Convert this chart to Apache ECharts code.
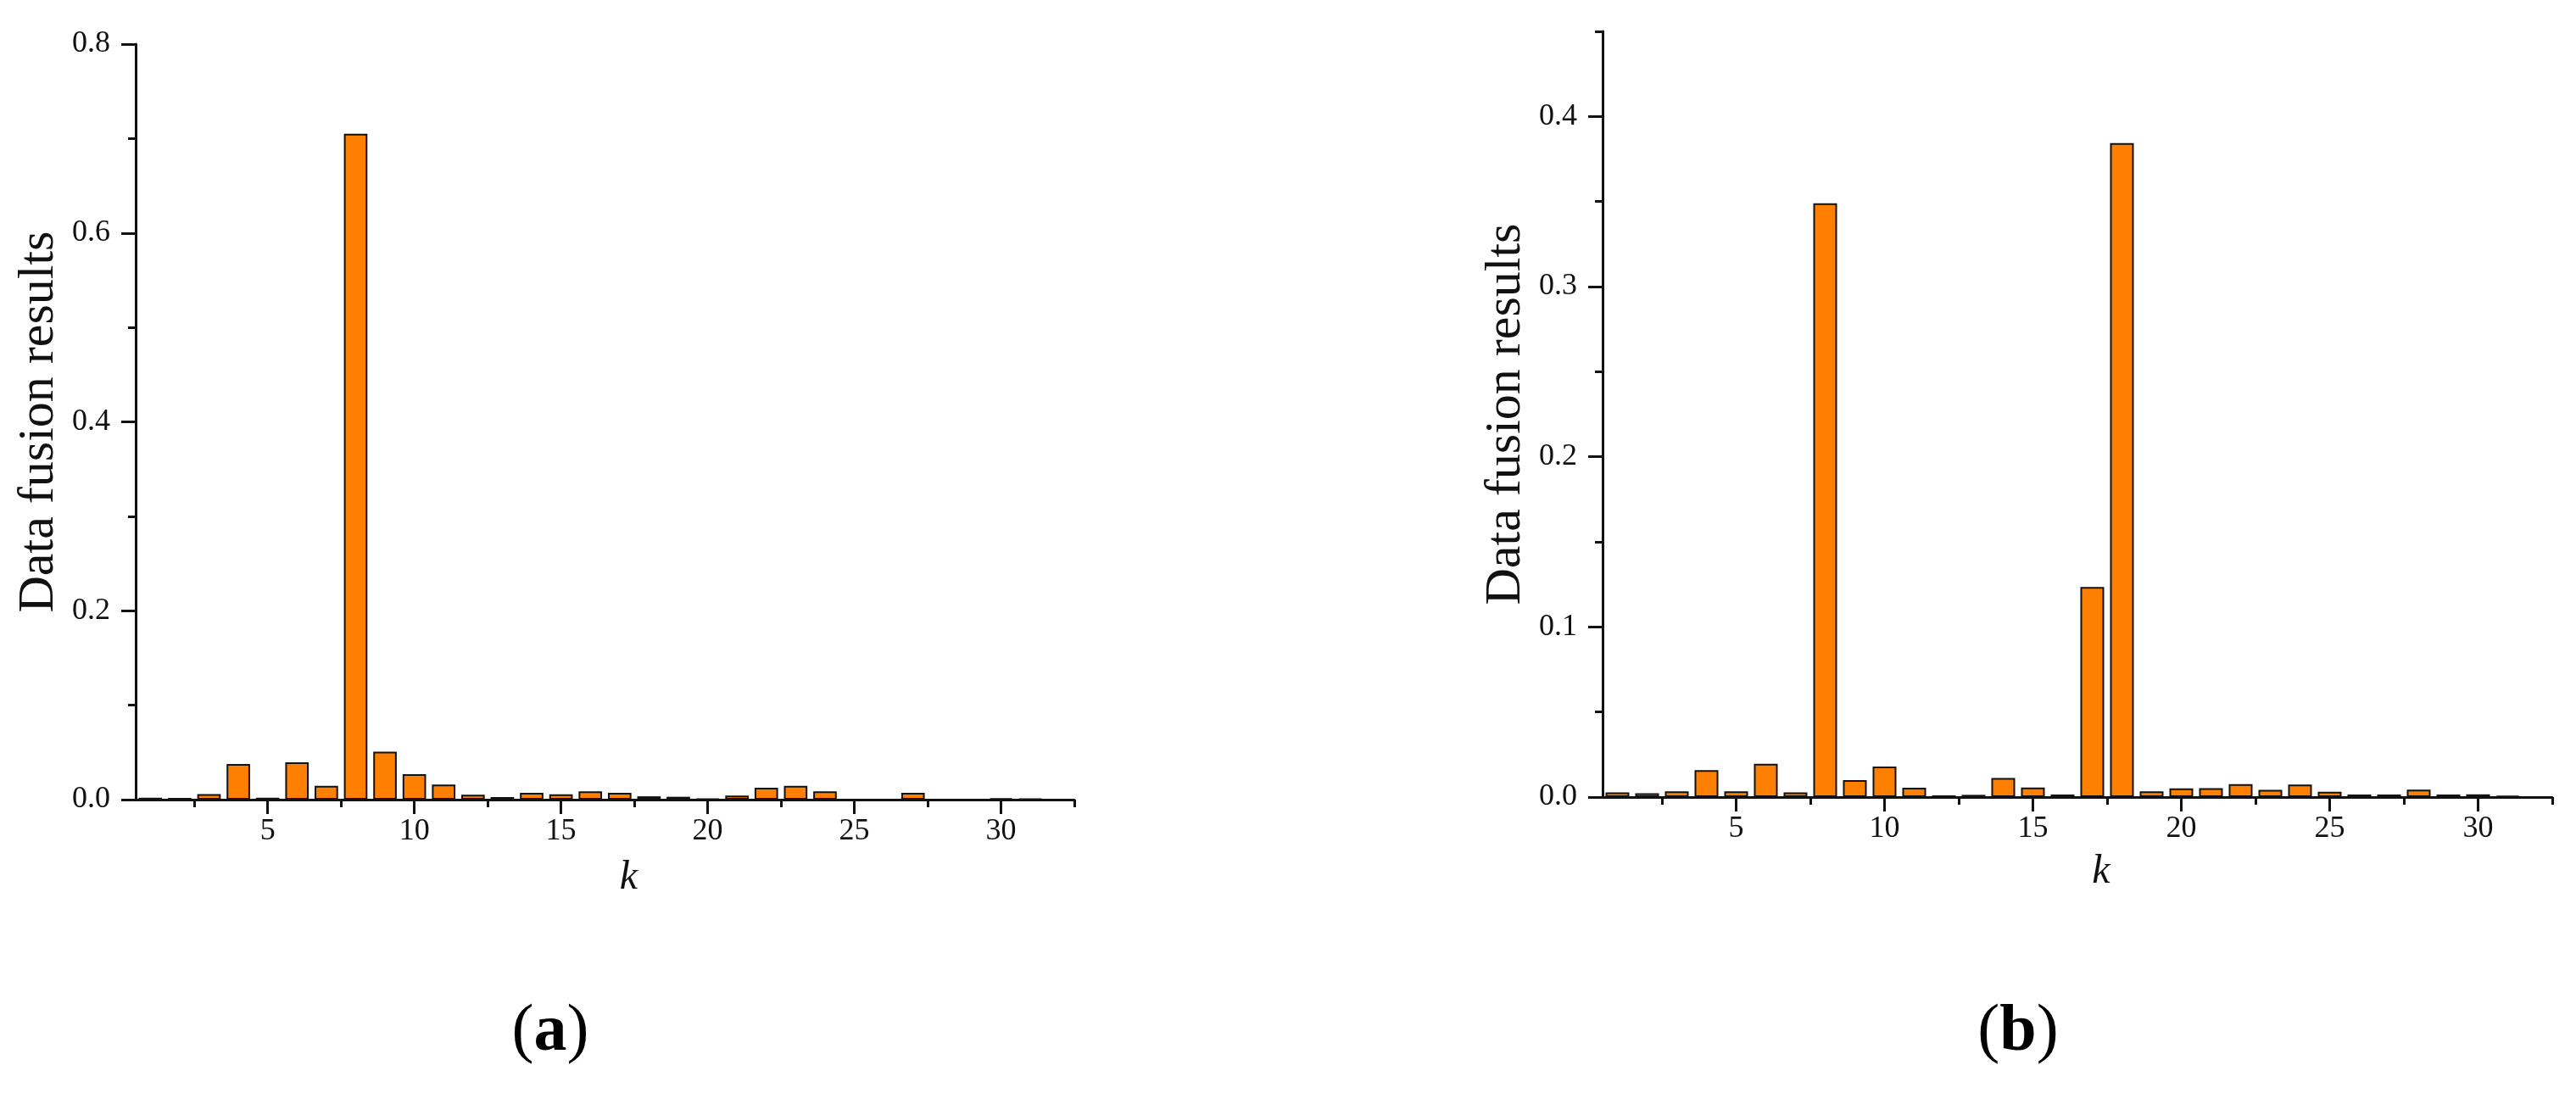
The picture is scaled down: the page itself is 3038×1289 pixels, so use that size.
<!DOCTYPE html>
<html>
<head>
<meta charset="utf-8">
<title>Data fusion results</title>
<script src="https://cdn.jsdelivr.net/npm/echarts@6/dist/echarts.min.js"></script>
<style>
  html, body { margin: 0; padding: 0; background: #fff; }
  #chart { width: 3038px; height: 1289px; }
</style>
</head>
<body>
<div id="chart"></div>
<script>
// k = 1..31
const kValues = [1, 2, 3, 4, 5, 6, 7, 8, 9, 10, 11, 12, 13, 14, 15, 16,
  17, 18, 19, 20, 21, 22, 23, 24, 25, 26, 27, 28, 29, 30, 31];

// panel (a)
const fusionA = [0.002, 0.0018, 0.0058, 0.0378, 0.002, 0.0395, 0.0146, 0.705,
  0.0508, 0.027, 0.0159, 0.0051, 0.0027, 0.0072, 0.0057, 0.0087,
  0.0072, 0.0035, 0.003, 0.0008, 0.0042, 0.0126, 0.0146, 0.0088,
  0, 0, 0.0072, 0, 0, 0.0015, 0.0008];

// panel (b)
const fusionB = [0.0027, 0.0023, 0.0034, 0.0158, 0.0034, 0.0195, 0.0027, 0.349,
  0.010, 0.018, 0.0055, 0.001, 0.0013, 0.0112, 0.0056, 0.0015,
  0.1235, 0.3843, 0.0034, 0.0051, 0.0052, 0.0076, 0.0042, 0.0074,
  0.0031, 0.0015, 0.0015, 0.0044, 0.0015, 0.0016, 0.0008];

const kTicks = [5, 10, 15, 20, 25, 30];
const kMinorTicks = [2.5, 7.5, 12.5, 17.5, 22.5, 27.5, 32.5];
const yTicksA = [0, 0.2, 0.4, 0.6, 0.8];
const yMinorA = [0.1, 0.3, 0.5, 0.7];
const yTicksB = [0, 0.1, 0.2, 0.3, 0.4];
const yMinorB = [0.05, 0.15, 0.25, 0.35, 0.45];

const FONT = "'Liberation Serif', 'Times New Roman', serif";
const INK = "#111";
const BAR_COLOR = "#ff8000";

const chart = echarts.init(document.getElementById("chart"));

function lineStyle() {
  return { color: INK, width: 3 };
}

function mainX(gridIndex) {
  return {
    type: "value",
    gridIndex,
    position: "bottom",
    min: 0.5,
    max: 32.5,
    name: "k",
    nameLocation: "middle",
    nameGap: gridIndex === 0 ? 68 : 64,
    nameTextStyle: { fontFamily: FONT, fontStyle: "italic", fontSize: 48, color: INK, padding: [0, 0, 0, 56] },
    axisLine: { show: true, onZero: false, lineStyle: lineStyle() },
    axisTick: { show: true, length: 17, lineStyle: lineStyle(), customValues: kTicks },
    axisLabel: { fontFamily: FONT, fontSize: 36, color: INK, margin: 20, customValues: kTicks },
    splitLine: { show: false },
  };
}

function minorX(gridIndex) {
  return {
    type: "value",
    gridIndex,
    position: "bottom",
    min: 0.5,
    max: 32.5,
    axisLine: { show: false },
    axisTick: { show: true, length: 9, lineStyle: lineStyle(), customValues: kMinorTicks },
    axisLabel: { show: false },
    splitLine: { show: false },
  };
}

function mainY(gridIndex, max, ticks) {
  return {
    type: "value",
    gridIndex,
    position: "left",
    min: 0,
    max,
    name: "Data fusion results",
    nameLocation: "middle",
    nameGap: 84,
    nameTextStyle: { fontFamily: FONT, fontSize: 60, color: INK },
    axisLine: { show: true, onZero: false, lineStyle: lineStyle() },
    axisTick: { show: true, length: 17, lineStyle: lineStyle(), customValues: ticks },
    axisLabel: {
      fontFamily: FONT, fontSize: 36, color: INK, margin: 30,
      customValues: ticks,
      formatter: (v) => v.toFixed(1),
    },
    splitLine: { show: false },
  };
}

function minorY(gridIndex, max, ticks) {
  return {
    type: "value",
    gridIndex,
    position: "left",
    min: 0,
    max,
    axisLine: { show: false },
    axisTick: { show: true, length: 9, lineStyle: lineStyle(), customValues: ticks },
    axisLabel: { show: false },
    splitLine: { show: false },
  };
}

function barSeries(xAxisIndex, yAxisIndex, values) {
  return {
    type: "bar",
    xAxisIndex,
    yAxisIndex,
    barWidth: "80%",
    data: kValues.map((k, i) => [k, values[i]]),
    itemStyle: { color: BAR_COLOR, borderColor: INK, borderWidth: 2 },
  };
}

function panelLabel(letter, x) {
  return {
    type: "text",
    x,
    y: 1218,
    style: {
      text: "{p|(}{b|" + letter + "}{p|)}",
      align: "center",
      verticalAlign: "middle",
      fill: "#000",
      rich: {
        p: { fontFamily: FONT, fontSize: 78, fill: "#000" },
        b: { fontFamily: FONT, fontSize: 78, fontWeight: "bold", fill: "#000" },
      },
    },
  };
}

chart.setOption({
  backgroundColor: "#fff",
  animation: false,
  grid: [
    { left: 160, top: 52, width: 1107, height: 891 },
    { left: 1890, top: 37, width: 1120, height: 903 },
  ],
  xAxis: [mainX(0), minorX(0), mainX(1), minorX(1)],
  yAxis: [
    mainY(0, 0.8, yTicksA), minorY(0, 0.8, yMinorA),
    mainY(1, 0.45, yTicksB), minorY(1, 0.45, yMinorB),
  ],
  series: [
    barSeries(0, 0, fusionA),
    barSeries(2, 2, fusionB),
  ],
  graphic: [panelLabel("a", 649), panelLabel("b", 2380)],
});
</script>
</body>
</html>
